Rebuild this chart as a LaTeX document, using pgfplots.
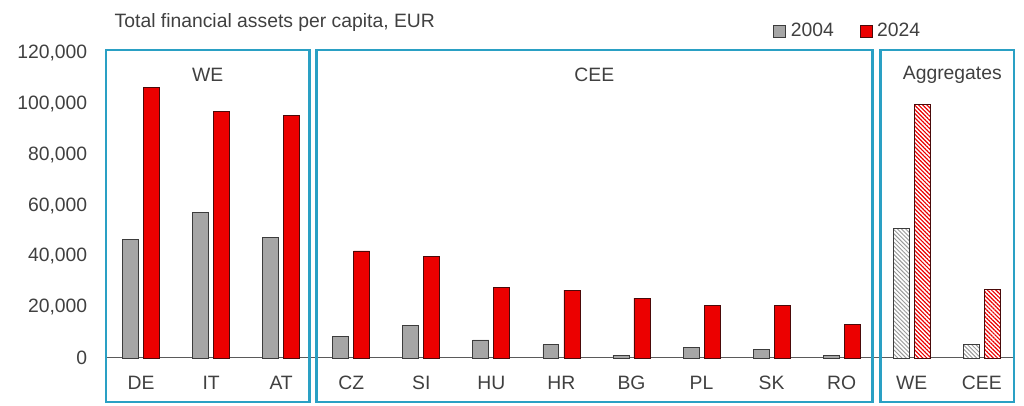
\documentclass[border=0pt]{standalone}
\usepackage{pgfplots}
\pgfplotsset{compat=1.18}
\usepackage{fontspec}
\setmainfont{Liberation Sans}
\usetikzlibrary{patterns.meta}

\definecolor{boxc}{HTML}{2AA0C4}
\definecolor{txt}{HTML}{404040}
\definecolor{bargrey}{HTML}{A6A6A6}
\definecolor{barred}{HTML}{EC0000}
\definecolor{edgegrey}{HTML}{3C3C3C}
\definecolor{edgered}{HTML}{4A0A0A}
\definecolor{basec}{HTML}{5A5A5A}

% 2004 and 2024, countries at x = 0..10
\pgfplotstableread{
x y04 y24
0 46800 106500
1 57300 96900
2 47500 95600
3 8500 42100
4 12800 40100
5 7100 27800
6 5200 26700
7 1000 23600
8 4300 20700
9 3300 20800
10 1000 13200
}\countries
% aggregates WE, CEE
\pgfplotstableread{
x y04 y24
11 50800 99600
12 5200 26800
}\aggr

\begin{document}
\begin{tikzpicture}[font=\fontsize{14.5}{17}\selectfont, text=txt]
\useasboundingbox (0,0) rectangle (768pt,304.5pt);
\node[anchor=base west] at (82.5pt,283.5pt) {Total financial assets per capita, EUR};
\begin{axis}[
    at={(79.5pt,36pt)}, anchor=south west,
    scale only axis, width=681pt, height=231pt,
    xmin=-0.5, xmax=12.46,
    ymin=0, ymax=121180,
    clip=false,
    ybar, bar width=0.228,
    axis lines*=left,
    x axis line style={draw=basec, line width=0.75pt},
    y axis line style={draw=none},
    major tick length=0pt,
    xtick={0,...,12},
    xticklabels={DE,IT,AT,CZ,SI,HU,HR,BG,PL,SK,RO,WE,CEE},
    xticklabel style={anchor=center, yshift=-18.75pt, text=txt},
    ytick={0,20000,...,120000},
    scaled y ticks=false,
    yticklabel style={anchor=east, inner sep=0pt, xshift=-13.9pt, text=txt,
        /pgf/number format/.cd, fixed, 1000 sep={,}, assume math mode=true},
    legend style={at={(rel axis cs:0.7346,1.0617)}, anchor=west, draw=none,
        fill=none, inner sep=0pt, legend columns=2,
        /tikz/every even column/.append style={column sep=17.5pt}},
    legend image code/.code={\draw[#1] (0pt,-4.5pt) rectangle (9pt,4.5pt);
        \path (10.5pt,0pt);},
]
\addplot[bar shift=-0.15, fill=bargrey, draw=edgegrey, line width=0.6pt]
    table[x=x, y=y04] {\countries};
\addlegendentry{2004}
\addplot[bar shift=0.15, fill=barred, draw=edgered, line width=0.6pt]
    table[x=x, y=y24] {\countries};
\addlegendentry{2024}
\addplot[forget plot, bar shift=-0.15, fill=white, draw=edgegrey, line width=0.6pt,
    postaction={pattern={Lines[angle=-45,distance=2.2pt,line width=0.7pt]}, pattern color=gray!80}]
    table[x=x, y=y04] {\aggr};
\addplot[forget plot, bar shift=0.15, fill=white, draw=edgered, line width=0.6pt,
    postaction={pattern={Lines[angle=-45,distance=2.2pt,line width=0.9pt]}, pattern color=barred}]
    table[x=x, y=y24] {\aggr};

% group frames
\draw[boxc, line width=2.2pt] (axis cs:-0.5,-17310) rectangle (axis cs:2.40,121180);
\draw[boxc, line width=2.2pt] (axis cs:2.50,-17310) rectangle (axis cs:10.435,121180);
\draw[boxc, line width=2.2pt] (axis cs:10.56,-17310) rectangle (axis cs:12.46,121180);
\node at (axis cs:0.95,111350) {WE};
\node at (axis cs:6.47,111350) {CEE};
\node at (axis cs:11.58,111350) {Aggregates};
\end{axis}
\end{tikzpicture}
\end{document}
